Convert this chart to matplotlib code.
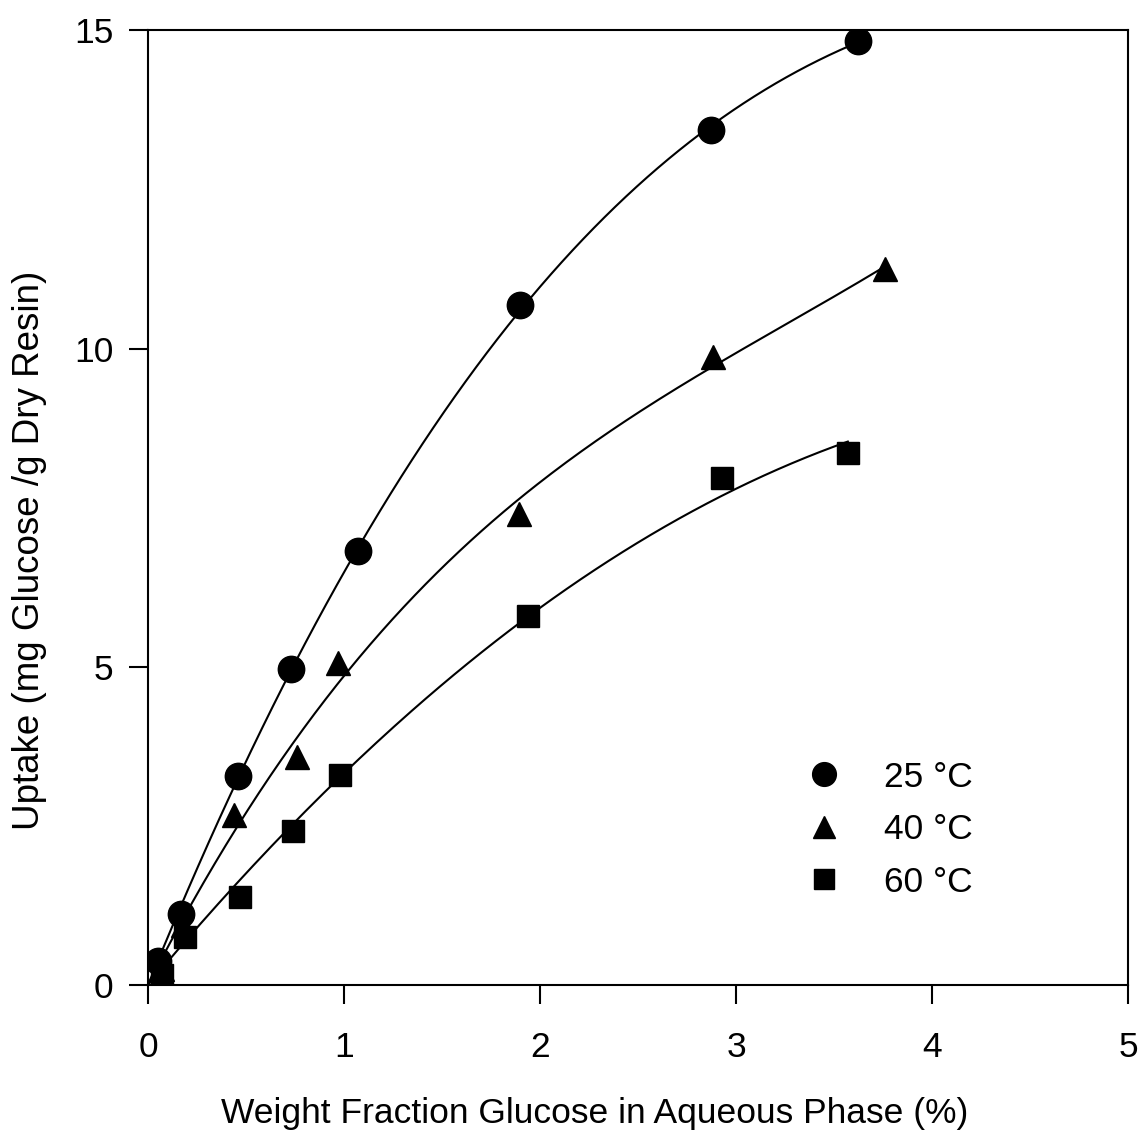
import numpy as np
import matplotlib.pyplot as plt

plt.rcParams['font.family'] = ['Liberation Sans', 'DejaVu Sans']

# data
x25 = [0.05, 0.17, 0.46, 0.73, 1.07, 1.90, 2.87, 3.62]
y25 = [0.37, 1.12, 3.28, 4.96, 6.82, 10.68, 13.43, 14.83]

x40 = [0.07, 0.18, 0.44, 0.76, 0.97, 1.89, 2.88, 3.76]
y40 = [0.25, 0.95, 2.67, 3.58, 5.06, 7.40, 9.86, 11.25]

x60 = [0.07, 0.19, 0.47, 0.74, 0.98, 1.94, 2.93, 3.57]
y60 = [0.16, 0.75, 1.38, 2.42, 3.30, 5.80, 7.96, 8.36]

series = [
    (x25, y25, 'o', 19, '25 °C', 3),
    (x40, y40, '^', 17, '40 °C', 3),
    (x60, y60, 's', 16, '60 °C', 2),
]

fig = plt.figure(figsize=(11.43, 11.42), dpi=100)
ax = fig.add_axes([0.1295, 0.1375, 0.8575, 0.836])

for xs, ys, mk, ms, lab, deg in series:
    xs = np.array(xs)
    ys = np.array(ys)
    # smooth polynomial fit through the points (forced through origin)
    A = np.vstack([xs**k for k in range(1, deg + 1)]).T
    coef = np.linalg.lstsq(A, ys, rcond=None)[0]
    xf = np.linspace(0, xs.max(), 200)
    yf = sum(c * xf**(k + 1) for k, c in enumerate(coef))
    ax.plot(xf, yf, color='black', lw=1.5, zorder=2)
    ax.plot(xs, ys, mk, color='black', ms=ms, ls='none', label=lab, zorder=3)

ax.set_xlim(0, 5)
ax.set_ylim(0, 15)
ax.set_xticks([0, 1, 2, 3, 4, 5])
ax.set_yticks([0, 5, 10, 15])
ax.tick_params(direction='out', length=14, width=1.5, labelsize=25.5)
ax.tick_params(axis='x', pad=19)
ax.tick_params(axis='y', pad=11)
for s in ax.spines.values():
    s.set_linewidth(1.5)

# axis titles placed where they sit in the original
fig.text(595 / 1143, 1 - 1114 / 1142, 'Weight Fraction Glucose in Aqueous Phase (%)',
         fontsize=25.5, ha='center', va='center')
fig.text(30 / 1143, 1 - 550 / 1142, 'Uptake (mg Glucose /g Dry Resin)',
         fontsize=26.5, ha='center', va='center', rotation=90)

ax.legend(loc='lower right', bbox_to_anchor=(0.874, 0.057), frameon=False,
          fontsize=25.5, handlelength=1.0, handletextpad=1.2, labelspacing=0.55,
          markerscale=0.9)

fig.savefig('out.png', dpi=100)
